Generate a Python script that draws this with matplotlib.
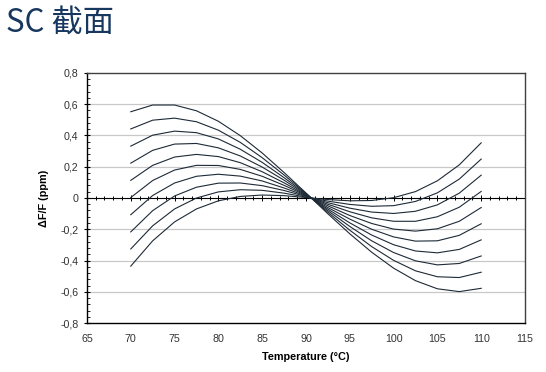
import numpy as np
import matplotlib
matplotlib.use('Agg')
import matplotlib.pyplot as plt
from matplotlib.ticker import MultipleLocator, FixedLocator, FixedFormatter, NullFormatter

plt.rcParams['font.family'] = ['Liberation Sans', 'Noto Sans CJK SC', 'DejaVu Sans']

# Temperatura (°C) i krzywe dF/F (ppm)
temperature = [70, 72.5, 75, 77.5, 80, 82.5, 85, 87.5, 90, 92.5, 95, 97.5, 100, 102.5, 105, 107.5, 110]

curve_1 = [0.552, 0.595, 0.595, 0.558, 0.491, 0.399, 0.288, 0.163, 0.032, -0.101, -0.229, -0.347, -0.449, -0.529, -0.581, -0.599, -0.578]
curve_2 = [0.442, 0.498, 0.511, 0.488, 0.434, 0.356, 0.258, 0.147, 0.029, -0.091, -0.206, -0.311, -0.399, -0.466, -0.504, -0.509, -0.475]
curve_3 = [0.332, 0.402, 0.428, 0.418, 0.378, 0.312, 0.228, 0.130, 0.026, -0.081, -0.182, -0.274, -0.349, -0.402, -0.428, -0.419, -0.371]
curve_4 = [0.223, 0.305, 0.345, 0.349, 0.321, 0.269, 0.198, 0.114, 0.022, -0.071, -0.159, -0.237, -0.299, -0.339, -0.351, -0.329, -0.268]
curve_5 = [0.113, 0.209, 0.262, 0.279, 0.265, 0.226, 0.168, 0.097, 0.019, -0.061, -0.135, -0.200, -0.249, -0.276, -0.274, -0.239, -0.165]
curve_6 = [0.003, 0.112, 0.179, 0.209, 0.208, 0.183, 0.139, 0.081, 0.016, -0.050, -0.112, -0.163, -0.199, -0.212, -0.197, -0.149, -0.061]
curve_7 = [-0.107, 0.016, 0.096, 0.139, 0.152, 0.140, 0.109, 0.064, 0.013, -0.040, -0.088, -0.127, -0.149, -0.149, -0.120, -0.059, 0.042]
curve_8 = [-0.217, -0.081, 0.013, 0.069, 0.095, 0.096, 0.079, 0.048, 0.010, -0.030, -0.065, -0.090, -0.099, -0.085, -0.044, 0.031, 0.146]
curve_9 = [-0.326, -0.178, -0.070, 0.000, 0.039, 0.053, 0.049, 0.031, 0.006, -0.020, -0.041, -0.053, -0.049, -0.022, 0.033, 0.121, 0.249]
curve_10 = [-0.436, -0.274, -0.153, -0.070, -0.018, 0.010, 0.019, 0.015, 0.003, -0.010, -0.018, -0.016, 0.002, 0.041, 0.110, 0.212, 0.353]

curves = [curve_1, curve_2, curve_3, curve_4, curve_5, curve_6, curve_7, curve_8, curve_9, curve_10]

y_ticks = [-0.8, -0.6, -0.4, -0.2, 0, 0.2, 0.4, 0.6, 0.8]
y_ticklabels = ['-0,8', '-0,6', '-0,4', '-0,2', '0', '0,2', '0,4', '0,6', '0,8']
x_ticks = [65, 70, 75, 80, 85, 90, 95, 100, 105, 110, 115]

fig = plt.figure(figsize=(5.46, 3.72), dpi=100)
fig.patch.set_facecolor('white')
ax = fig.add_axes([0.1593, 0.1317, 0.8022, 0.6721])

# siatka
for v in y_ticks[1:-1]:
    if v != 0:
        ax.axhline(v, color='#c8c8c8', lw=0.9, zorder=1)

for c in curves:
    ax.plot(temperature, c, color='#1e2a36', lw=0.8, zorder=3, solid_joinstyle='round')

ax.set_xlim(65, 115)
ax.set_ylim(-0.8, 0.8)

ax.yaxis.set_major_locator(FixedLocator(y_ticks))
ax.yaxis.set_major_formatter(FixedFormatter(y_ticklabels))
ax.yaxis.set_minor_locator(MultipleLocator(0.04))
ax.tick_params(axis='y', which='major', direction='inout', length=4, width=0.8,
               labelsize=7.7, labelcolor='#333333', pad=4)
ax.tick_params(axis='y', which='minor', direction='in', length=2.5, width=0.6)

ax.set_xticks(x_ticks)
ax.tick_params(axis='x', which='major', length=0, labelsize=7.7, labelcolor='#333333', pad=8)

for s in ['left', 'bottom']:
    ax.spines[s].set_color('black')
    ax.spines[s].set_linewidth(1.0)
for s in ['top', 'right']:
    ax.spines[s].set_color('#404040')
    ax.spines[s].set_linewidth(1.0)

# os X przecina w zerze
sec = ax.secondary_xaxis(0.5)
sec.spines['bottom'].set_color('black')
sec.spines['bottom'].set_linewidth(1.1)
sec.xaxis.set_major_locator(MultipleLocator(5))
sec.xaxis.set_minor_locator(MultipleLocator(1))
sec.xaxis.set_major_formatter(NullFormatter())
sec.tick_params(which='both', direction='inout', length=4, width=0.7)
sec.tick_params(which='minor', length=3.5)

ax.set_xlabel('Temperature (°C)', fontsize=7.8, fontweight='bold', labelpad=6)
ax.set_ylabel('ΔF/F (ppm)', fontsize=7.8, fontweight='bold', labelpad=8)

fig.text(0.011, 0.938, 'SC 截面', fontsize=22.5, color='#17375e', fontweight='medium',
         family=['Noto Sans CJK SC', 'DejaVu Sans'], va='center', ha='left')

plt.savefig('out.png', dpi=100)
